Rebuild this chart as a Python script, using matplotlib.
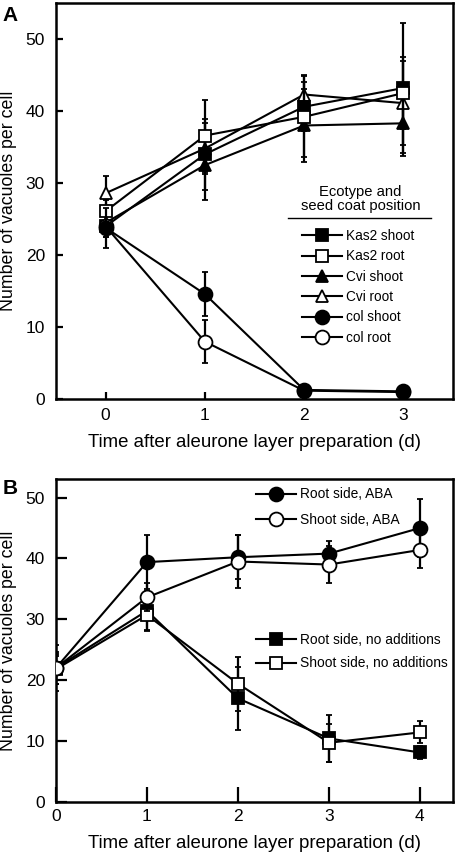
import matplotlib
matplotlib.use("Agg")
import matplotlib.pyplot as plt
from matplotlib.lines import Line2D

plt.rcParams['font.family'] = ['Liberation Sans', 'DejaVu Sans']

# ---- Panel A data ----
days_a = [0, 1, 2, 3]
kas2_shoot = [24.0, 34.0, 40.6, 43.2]
kas2_shoot_err = [1.5, 4.9, 3.4, 9.0]
kas2_root = [26.1, 36.6, 39.2, 42.5]
kas2_root_err = [1.5, 5.0, 5.6, 5.0]
cvi_shoot = [24.5, 32.5, 38.0, 38.3]
cvi_shoot_err = [1.5, 4.8, 5.0, 4.5]
cvi_root = [28.6, 34.8, 42.3, 41.1]
cvi_root_err = [2.4, 3.5, 2.7, 5.8]
col_shoot = [23.8, 14.6, 1.3, 1.1]
col_shoot_err = [2.8, 3.1, 0.3, 0.2]
col_root = [24.0, 8.0, 1.2, 1.0]
col_root_err = [1.5, 3.0, 0.3, 0.2]

# ---- Panel B data ----
days_b = [0, 1, 2, 3, 4]
root_aba = [22.0, 39.4, 40.2, 40.8, 45.0]
root_aba_err = [2.6, 4.5, 3.6, 2.0, 4.7]
shoot_aba = [22.0, 33.6, 39.5, 39.0, 41.4]
shoot_aba_err = [2.0, 2.3, 4.3, 3.0, 3.0]
root_none = [22.0, 31.4, 17.0, 10.4, 8.1]
root_none_err = [3.8, 3.3, 5.2, 3.8, 1.0]
shoot_none = [21.8, 30.7, 19.4, 9.7, 11.4]
shoot_none_err = [2.5, 2.5, 4.4, 3.1, 1.8]

fig = plt.figure(figsize=(4.56, 8.55), dpi=100)
axA = fig.add_axes([0.1228, 0.533, 0.8706, 0.4635])
axB = fig.add_axes([0.1228, 0.0623, 0.8699, 0.377])


def series(ax, x, y, err, marker, filled, ms=9, z=3):
    ax.errorbar(x, y, yerr=err, color='black', lw=1.5, elinewidth=1.6,
                capsize=2.5, capthick=1.6, marker=marker, ms=ms,
                mfc='black' if filled else 'white', mec='black', mew=1.3,
                zorder=z)


def handle(marker, filled, ms):
    return Line2D([], [], color='black', lw=1.5, marker=marker, ms=ms,
                  mfc='black' if filled else 'white', mec='black', mew=1.3)


# ---- Panel A ----
series(axA, days_a, cvi_root, cvi_root_err, '^', False, ms=9, z=3)
series(axA, days_a, cvi_shoot, cvi_shoot_err, '^', True, ms=9, z=3)
series(axA, days_a, kas2_shoot, kas2_shoot_err, 's', True, ms=9, z=4)
series(axA, days_a, kas2_root, kas2_root_err, 's', False, ms=9, z=5)
series(axA, days_a, col_root, col_root_err, 'o', False, ms=10, z=4)
series(axA, days_a, col_shoot, col_shoot_err, 'o', True, ms=10, z=6)

axA.set_xlim(-0.5, 3.5)
axA.set_ylim(0, 55)
axA.set_xticks([0, 1, 2, 3])
axA.set_yticks([0, 10, 20, 30, 40, 50])
axA.tick_params(direction='in', length=5, width=1.6, labelsize=12.5)
axA.tick_params(axis='x', pad=6)
axA.tick_params(axis='y', pad=8)
axA.set_xlabel('Time after aleurone layer preparation (d)', fontsize=13.4, labelpad=8)
axA.set_ylabel('Number of vacuoles per cell', fontsize=12.8)
axA.yaxis.set_label_coords(-0.098, 0.5)
for s in axA.spines.values():
    s.set_linewidth(1.8)

labelsA = ['Kas2 shoot', 'Kas2 root', 'Cvi shoot', 'Cvi root', 'col shoot', 'col root']
handlesA = [handle('s', True, 9), handle('s', False, 9), handle('^', True, 9),
            handle('^', False, 9), handle('o', True, 10), handle('o', False, 10)]
axA.legend(handlesA, labelsA, loc='upper left',
           bbox_to_anchor=(0.62, 0.43), frameon=False, fontsize=9.8,
           handlelength=2.9, handletextpad=0.3, labelspacing=0.47,
           borderpad=0, borderaxespad=0)
axA.text(0.767, 0.505, 'Ecotype and\nseed coat position', transform=axA.transAxes,
         ha='center', va='center', fontsize=10.6, linespacing=1.0)
axA.plot([0.584, 0.945], [0.4575, 0.4575], transform=axA.transAxes,
         color='black', lw=1.0, clip_on=False)
fig.text(0.005, 0.993, 'A', fontsize=15, fontweight='bold', va='top', ha='left')

# ---- Panel B ----
series(axB, days_b, root_none, root_none_err, 's', True, ms=9, z=3)
series(axB, days_b, shoot_none, shoot_none_err, 's', False, ms=9, z=4)
series(axB, days_b, root_aba, root_aba_err, 'o', True, ms=10, z=5)
series(axB, days_b, shoot_aba, shoot_aba_err, 'o', False, ms=10, z=6)

axB.set_xlim(0, 4.36)
axB.set_ylim(0, 53)
axB.set_xticks([0, 1, 2, 3, 4])
axB.set_yticks([0, 10, 20, 30, 40, 50])
axB.tick_params(direction='in', width=1.6, labelsize=12.5)
axB.tick_params(axis='x', length=11, pad=5)
axB.tick_params(axis='y', length=8, pad=8)
axB.set_xlabel('Time after aleurone layer preparation (d)', fontsize=13.4, labelpad=8)
axB.set_ylabel('Number of vacuoles per cell', fontsize=12.8)
axB.yaxis.set_label_coords(-0.098, 0.5)
for s in axB.spines.values():
    s.set_linewidth(1.8)

top = ['Root side, ABA', 'Shoot side, ABA']
bot = ['Root side, no additions', 'Shoot side, no additions']
leg1 = axB.legend([handle('o', True, 10), handle('o', False, 10)], top,
                  loc='upper left', bbox_to_anchor=(0.505, 0.975), frameon=False,
                  fontsize=9.9, handlelength=2.9, handletextpad=0.3,
                  labelspacing=0.85, borderpad=0, borderaxespad=0)
axB.add_artist(leg1)
axB.legend([handle('s', True, 9), handle('s', False, 9)], bot,
           loc='upper left', bbox_to_anchor=(0.505, 0.524), frameon=False,
           fontsize=9.9, handlelength=2.9, handletextpad=0.3,
           labelspacing=0.7, borderpad=0, borderaxespad=0)
fig.text(0.005, 0.44, 'B', fontsize=15, fontweight='bold', va='top', ha='left')

fig.savefig('out.png', dpi=100)
